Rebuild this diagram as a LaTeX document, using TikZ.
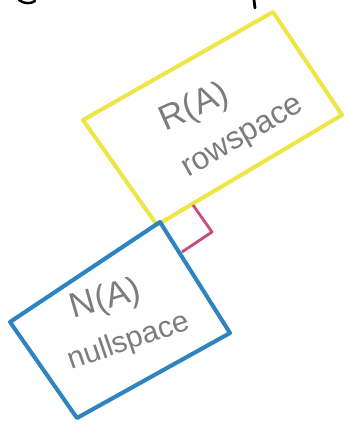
\documentclass[tikz,border=0pt]{standalone}
\usepackage{fontspec}
\setmainfont{Liberation Sans}
\definecolor{rowyellow}{RGB}{238,230,70}
\definecolor{nullblue}{RGB}{45,132,192}
\definecolor{rightpink}{RGB}{196,78,128}
\definecolor{penGray}{RGB}{125,125,125}
\begin{document}
\begin{tikzpicture}[x=0.02cm,y=-0.02cm,
  spacebox/.style={line width=2.3pt,line join=round,line cap=round},
  handtext/.style={text=penGray,inner sep=0pt,font=\fontsize{18}{20}\selectfont}]
\useasboundingbox (0,0) rectangle (348,424);
\fill[white] (0,0) rectangle (348,424);

% corners of the row space (yellow)
\coordinate (rT) at (273,12);
\coordinate (rR) at (342,115);
\coordinate (rB) at (157,225);
\coordinate (rL) at (83,120);
% corners of the null space (blue)
\coordinate (nT) at (160,222);
\coordinate (nR) at (230,333);
\coordinate (nB) at (77,418);
\coordinate (nL) at (10,322);
% right-angle marker
\coordinate (m1) at (193,205);
\coordinate (m2) at (212,232);
\coordinate (m3) at (182,252);

\draw[spacebox,draw=rowyellow] (rT) -- (rR) -- (rB) -- (rL) -- cycle;
\draw[spacebox,draw=nullblue] (nT) -- (nR) -- (nB) -- (nL) -- cycle;
\draw[line width=1.6pt,draw=rightpink,line join=round] (m1) -- (m2) -- (m3);

% labels
\node[handtext,rotate=24,font=\fontsize{20}{22}\selectfont] (ra) at (195,108) {R(A)};
\node[handtext,rotate=30] (rs) at (244,139) {rowspace};
\node[handtext,rotate=16,font=\fontsize{20}{22}\selectfont] (na) at (106,300) {N(A)};
\node[handtext,rotate=19,font=\fontsize{17}{18}\selectfont] (ns) at (129,342) {nullspace};

% ink fragments at the top edge
\draw[line width=1.4pt,line cap=round] (19,0) .. controls (24,4) and (31,4) .. (35,1);
\draw[line width=1.6pt,line cap=round] (254,0) -- (255,8);
\end{tikzpicture}
\end{document}
